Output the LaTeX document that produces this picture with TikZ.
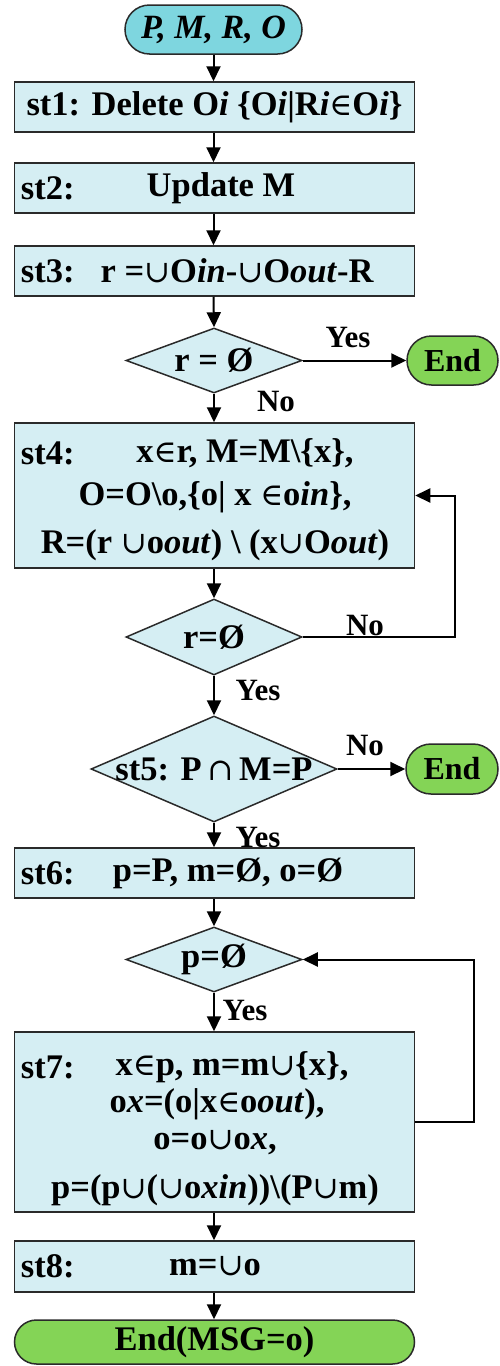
\documentclass[tikz,border=0pt]{standalone}
\usepackage{fontspec}
\setmainfont{Liberation Serif}
\newfontfamily\symfont{DejaVu Serif}[Scale=0.9]
\usetikzlibrary{shapes.geometric,shapes.misc,arrows.meta}
\definecolor{boxblue}{HTML}{D5EEF3}
\definecolor{startcyan}{HTML}{7ED6DF}
\definecolor{endgreen}{HTML}{84D456}
\definecolor{edgegray}{HTML}{2A2A2A}
\newcommand{\mainsize}{\fontsize{34.5}{38}\selectfont}
\newcommand{\labsize}{\fontsize{31}{34}\selectfont}
\newcommand{\termsize}{\fontsize{32}{36}\selectfont}
\newcommand{\sIn}{{\symfont\mdseries ∈}}
\newcommand{\sCup}{{\symfont\mdseries ∪}}
\newcommand{\sCap}{{\symfont\mdseries ∩}}
\begin{document}
\begin{tikzpicture}[x=1pt,y=-1pt,
  font=\bfseries\mainsize,
  stepbox/.style={rectangle, draw=edgegray, line width=1.5pt, fill=boxblue, minimum width=400, inner sep=0},
  dia/.style={diamond, draw=edgegray, line width=1.5pt, fill=boxblue, inner sep=0},
  term/.style={rounded rectangle, draw=edgegray, line width=1.5pt, inner sep=0},
  arr/.style={-{Triangle[length=15pt,width=14pt]}, line width=2pt},
  lab/.style={font=\bfseries\labsize, inner sep=0},
  txt/.style={inner sep=0}]
\useasboundingbox (0,0) rectangle (499,1366);
% nodes
\node[term, fill=startcyan, minimum width=177, minimum height=49, font=\bfseries\fontsize{34}{37}\selectfont] (start) at (213.5,29.5) {\itshape P, M, R, O};
\node[stepbox, minimum height=50] (s1) at (214.5,107) {st1: Delete O\textit{i} \{O\textit{i}|R\textit{i}\sIn O\textit{i}\}};
\node[stepbox, minimum height=50] (s2) at (214.5,188) {};
\node[txt, anchor=west] (s2l) at ([xshift=7]s2.west) {st2:};
\node[txt] (s2t) at (221,188) {Update M};
\node[stepbox, minimum height=50] (s3) at (214.5,271) {};
\node[txt, anchor=west] (s3l) at ([xshift=7]s3.west) {st3:};
\node[txt] (s3t) at (237,271) {r =\sCup O\textit{in}-\sCup O\textit{out}-R};
\node[dia, minimum width=176, minimum height=65, label=center:{r = Ø}] (d1) at (214,360.5) {};
\node[term, fill=endgreen, minimum width=91, minimum height=49, font=\bfseries\termsize] (e1) at (452.5,360.5) {End};
\node[stepbox, minimum height=145] (s4) at (214.5,495.5) {};
\node[txt, anchor=west] (s4l) at ([xshift=7]s4.west |- 0,453) {st4:};
\node[txt] (s4a) at (245,453) {x\sIn r, M=M\textbackslash\{x\},};
\node[txt] (s4b) at (215,497) {O=O\textbackslash o,\{o| x \sIn o\textit{in}\},};
\node[txt] (s4c) at (215,545) {R=(r \sCup o\textit{out}) \textbackslash{} (x\sCup O\textit{out})};
\node[dia, minimum width=176, minimum height=76, label=center:{r=Ø}] (d2) at (214,637) {};
\node[dia, minimum width=246, minimum height=106, label=center:{st5: P\,\sCap\,M=P}] (d3) at (214,769) {};
\node[term, fill=endgreen, minimum width=92, minimum height=50, font=\bfseries\termsize] (e2) at (452,769) {End};
\node[stepbox, minimum height=50] (s6) at (214.5,873) {};
\node[txt, anchor=west] (s6l) at ([xshift=7]s6.west) {st6:};
\node[txt] (s6t) at (228,873) {p=P, m=Ø, o=Ø};
\node[dia, minimum width=176, minimum height=65, label=center:{p=Ø}] (d4) at (214,959.5) {};
\node[stepbox, minimum height=180] (s7) at (214.5,1122) {};
\node[txt, anchor=west] (s7l) at ([xshift=7]s7.west |- 0,1067) {st7:};
\node[txt] (s7a) at (232,1067) {x\sIn p, m=m\sCup\{x\},};
\node[txt] (s7b) at (217,1104) {o\textit{x}=(o|x\sIn o\textit{out}),};
\node[txt] (s7c) at (215,1143) {o=o\sCup o\textit{x},};
\node[txt] (s7d) at (215,1190) {p=(p\sCup(\sCup o\textit{xin}))\textbackslash(P\sCup m)};
\node[stepbox, minimum height=51] (s8) at (214.5,1266.5) {};
\node[txt, anchor=west] (s8l) at ([xshift=7]s8.west) {st8:};
\node[txt] (s8t) at (215,1266.5) {m=\sCup o};
\node[term, fill=endgreen, minimum width=400, minimum height=44, font=\bfseries\fontsize{34.5}{38}\selectfont] (fin) at (214.5,1342) {End(MSG=o)};
% helper coordinates
\coordinate (c1) at (455,637);
\coordinate (c2) at (474,1122);
% connectors
\draw[arr] (start.south) -- (s1.north -| start.south);
\draw[arr] (s1.south -| start.south) -- (s2.north -| start.south);
\draw[arr] (s2.south -| start.south) -- (s3.north -| start.south);
\draw[arr] (s3.south -| start.south) -- (d1.north);
\draw[arr] (d1.east) -- (e1.west);
\draw[arr] (d1.south) -- (s4.north -| d1.south);
\draw[arr] (s4.south -| d2.north) -- (d2.north);
\draw[arr] (d2.east) -- (c1) |- (s4.east);
\draw[arr] (d2.south) -- (d3.north);
\draw[arr] (d3.east) -- (e2.west);
\draw[arr] (d3.south) -- (s6.north -| d3.south);
\draw[arr] (s6.south -| d4.north) -- (d4.north);
\draw[arr] (d4.south) -- (s7.north -| d4.south);
\draw[arr] (s7.east) -- (c2) |- (d4.east);
\draw[arr] (s7.south -| d4.south) -- (s8.north -| d4.south);
\draw[arr] (s8.south -| d4.south) -- (fin.north -| d4.south);
% connector labels
\node[lab] (y1) at (348,337) {Yes};
\node[lab] (n1) at (276,401) {No};
\node[lab] (n2) at (365,625) {No};
\node[lab] (y2) at (258,690) {Yes};
\node[lab] (n3) at (365,745) {No};
\node[lab] (y3) at (258,837) {Yes};
\node[lab] (y4) at (245,1010) {Yes};
\end{tikzpicture}
\end{document}
